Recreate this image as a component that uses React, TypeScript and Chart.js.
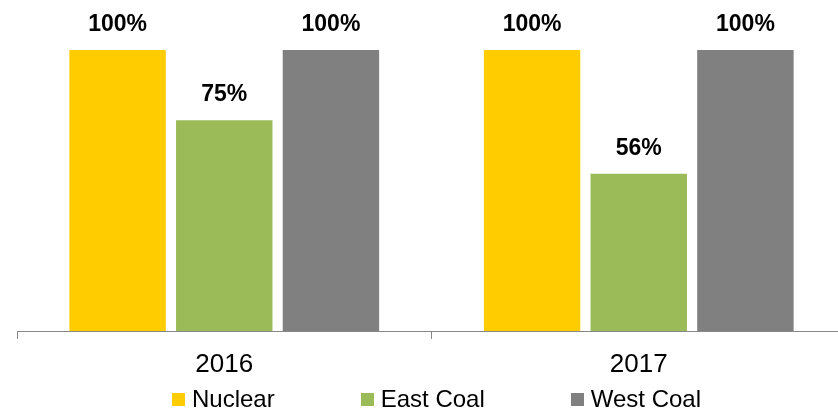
import { useEffect, useRef } from "react";
import { Chart, registerables } from "chart.js";

Chart.register(...registerables);

const categories = ["2016", "2017"];
const seriesNames = ["Nuclear", "East Coal", "West Coal"];
const nuclear = [100, 100];
const eastCoal = [75, 56];
const westCoal = [100, 100];
const seriesColors = ["#FFCC00", "#9BBB59", "#808080"];

const FONT = "'Liberation Sans', Arial, sans-serif";

const valueLabels = {
  id: "valueLabels",
  afterDatasetsDraw(chart: any) {
    const ctx = chart.ctx;
    ctx.save();
    ctx.font = `bold 23px ${FONT}`;
    ctx.fillStyle = "#000";
    ctx.textAlign = "center";
    ctx.textBaseline = "alphabetic";
    chart.data.datasets.forEach((ds: any, i: number) => {
      const meta = chart.getDatasetMeta(i);
      meta.data.forEach((el: any, j: number) => {
        ctx.fillText(`${ds.data[j]}%`, el.x, el.y - 19);
      });
    });
    ctx.restore();
  },
};

export default function App() {
  const ref = useRef<HTMLCanvasElement>(null);

  useEffect(() => {
    document.body.style.margin = "0";
    const seriesData = [nuclear, eastCoal, westCoal];
    const chart = new Chart(ref.current!, {
      type: "bar",
      data: {
        labels: categories,
        datasets: seriesNames.map((name, i) => ({
          label: name,
          data: seriesData[i],
          backgroundColor: seriesColors[i],
          borderWidth: 0,
          categoryPercentage: 0.772,
          barPercentage: 0.904,
        })),
      },
      options: {
        responsive: false,
        animation: false,
        devicePixelRatio: 1,
        layout: { padding: { top: 50, left: 17, right: 0, bottom: 0 } },
        plugins: {
          legend: { display: false },
          tooltip: { enabled: false },
        },
        scales: {
          x: {
            grid: {
              display: true,
              drawOnChartArea: false,
              drawTicks: true,
              tickLength: 8,
              color: "#888888",
              lineWidth: 1,
              offset: true,
            },
            border: { display: true, color: "#888888", width: 1 },
            ticks: {
              color: "#000",
              font: { family: FONT, size: 26 },
              padding: 10,
            },
            afterFit: (s: any) => {
              s.height = 78;
            },
          },
          y: {
            display: false,
            min: 0,
            max: 100,
          },
        },
      },
      plugins: [valueLabels],
    });
    return () => chart.destroy();
  }, []);

  return (
    <div
      style={{
        position: "relative",
        width: 838,
        height: 409,
        overflow: "hidden",
        background: "#fff",
      }}
    >
      <canvas
        ref={ref}
        width={846}
        height={409}
        style={{ position: "absolute", left: 0, top: 0, display: "block" }}
      />
      <div
        style={{
          position: "absolute",
          left: 172,
          top: 387,
          display: "flex",
          alignItems: "center",
          fontFamily: FONT,
          fontSize: 24,
          lineHeight: "24px",
          color: "#000",
          whiteSpace: "nowrap",
        }}
      >
        {seriesNames.map((name, i) => (
          <div
            key={name}
            style={{
              display: "flex",
              alignItems: "center",
              marginLeft: i ? 86 : 0,
            }}
          >
            <span
              style={{
                display: "inline-block",
                width: 13,
                height: 13,
                background: seriesColors[i],
                marginRight: 7,
              }}
            />
            <span>{name}</span>
          </div>
        ))}
      </div>
    </div>
  );
}
